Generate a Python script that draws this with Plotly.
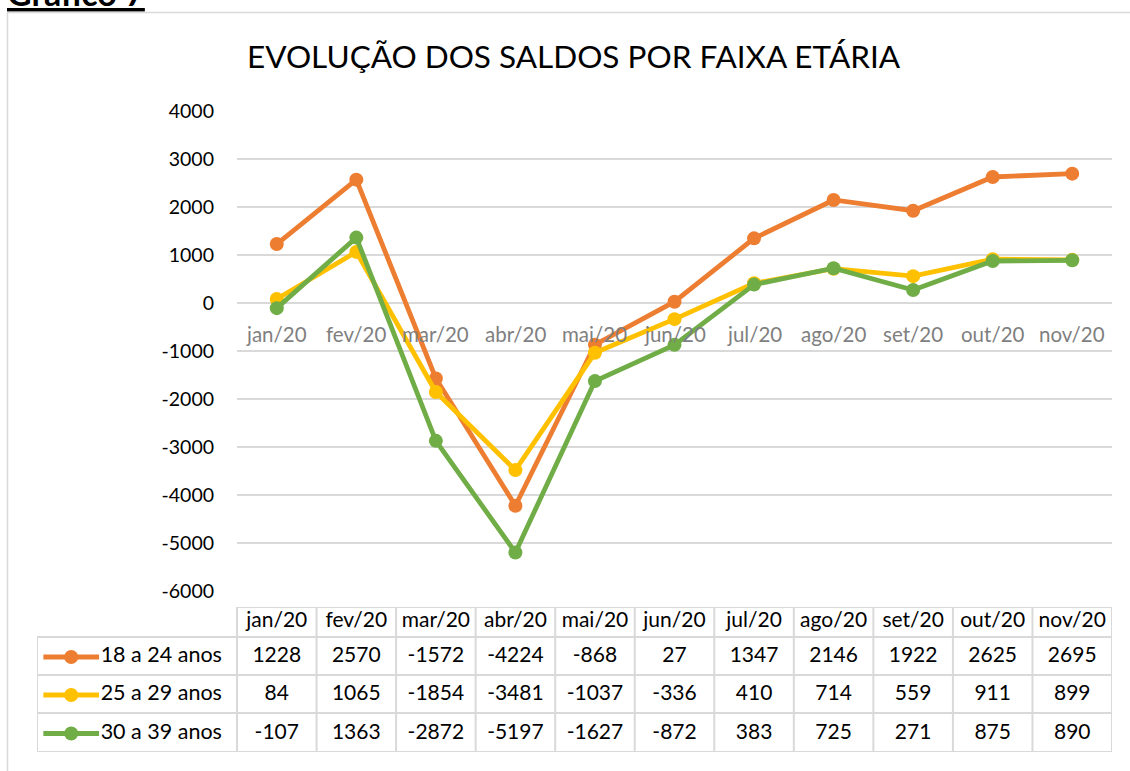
import plotly.graph_objects as go

categories = ["jan/20", "fev/20", "mar/20", "abr/20", "mai/20", "jun/20",
              "jul/20", "ago/20", "set/20", "out/20", "nov/20"]
series_names = ["18 a 24 anos", "25 a 29 anos", "30 a 39 anos"]
s18_24 = [1228, 2570, -1572, -4224, -868, 27, 1347, 2146, 1922, 2625, 2695]
s25_29 = [84, 1065, -1854, -3481, -1037, -336, 410, 714, 559, 911, 899]
s30_39 = [-107, 1363, -2872, -5197, -1627, -872, 383, 725, 271, 875, 890]
y_ticks = [4000, 3000, 2000, 1000, 0, -1000, -2000, -3000, -4000, -5000, -6000]
title_text = "EVOLUÇÃO DOS SALDOS POR FAIXA ETÁRIA"

colors = ["#ED7D31", "#FFC000", "#70AD47"]
series = [s18_24, s25_29, s30_39]

W, H = 1130, 771
FONT = "Lato"
GRID = "#d9d9d9"


def px_x(p):
    return p / W


def px_y(p):
    return 1 - p / H


fig = go.Figure()

n = len(categories)
idx = list(range(n))

for name, vals, col in zip(series_names, series, colors):
    fig.add_trace(go.Scatter(
        x=idx, y=vals, mode="lines+markers", name=name,
        line=dict(color=col, width=4.8),
        marker=dict(color=col, size=14),
        xaxis="x", yaxis="y", showlegend=False, cliponaxis=False,
    ))

# table: x2 in category units, y2 in pixel-like units (top=607, bottom=752)
tbl_top, hdr_bot = 607, 637
row_edges = [637, 675, 713, 752]
leg_left_units = -0.5 - 200 / 79.55
TFS = 21

fig.add_trace(go.Scatter(
    x=idx, y=[(tbl_top + hdr_bot) / 2] * n, mode="text", text=categories,
    textfont=dict(family=FONT, size=TFS, color="#000000"),
    xaxis="x2", yaxis="y2", showlegend=False, hoverinfo="skip",
))
for r, (name, vals, col) in enumerate(zip(series_names, series, colors)):
    yc = (row_edges[r] + row_edges[r + 1]) / 2 + 1
    fig.add_trace(go.Scatter(
        x=idx, y=[yc] * n, mode="text", text=[str(v) for v in vals],
        textfont=dict(family=FONT, size=TFS, color="#000000"),
        xaxis="x2", yaxis="y2", showlegend=False, hoverinfo="skip",
    ))
    fig.add_trace(go.Scatter(
        x=[leg_left_units + 0.08, leg_left_units + 0.78], y=[yc, yc],
        mode="lines", line=dict(color=col, width=4.8),
        xaxis="x2", yaxis="y2", showlegend=False, hoverinfo="skip",
    ))
    fig.add_trace(go.Scatter(
        x=[leg_left_units + 0.43], y=[yc], mode="markers",
        marker=dict(color=col, size=14),
        xaxis="x2", yaxis="y2", showlegend=False, hoverinfo="skip",
    ))
    fig.add_trace(go.Scatter(
        x=[leg_left_units + 0.80], y=[yc], mode="text", text=[name],
        textposition="middle right",
        textfont=dict(family=FONT, size=21.5, color="#000000"),
        xaxis="x2", yaxis="y2", showlegend=False, hoverinfo="skip",
    ))

shapes = []
shapes.append(dict(type="rect", xref="paper", yref="paper",
                   x0=px_x(7.5), x1=px_x(1140), y0=px_y(12.5), y1=px_y(790),
                   line=dict(color=GRID, width=1.5), fillcolor="rgba(0,0,0,0)",
                   layer="below"))
lc = dict(color=GRID, width=2)
shapes.append(dict(type="line", xref="x2", yref="y2", x0=-0.5, x1=n - 0.5,
                   y0=tbl_top, y1=tbl_top, line=lc))
for e in row_edges:
    shapes.append(dict(type="line", xref="x2", yref="y2", x0=leg_left_units,
                       x1=n - 0.5, y0=e, y1=e, line=lc))
shapes.append(dict(type="line", xref="x2", yref="y2", x0=leg_left_units,
                   x1=leg_left_units, y0=row_edges[0], y1=row_edges[-1], line=lc))
for i in range(n + 1):
    shapes.append(dict(type="line", xref="x2", yref="y2", x0=i - 0.5, x1=i - 0.5,
                       y0=tbl_top, y1=row_edges[-1], line=lc))

annotations = []
for i, c in enumerate(categories):
    annotations.append(dict(x=i, y=0, xref="x", yref="y", text=c, showarrow=False,
                            yshift=-31, font=dict(family=FONT, size=20.5, color="#7f7f7f")))
annotations.append(dict(x=px_x(574), y=px_y(56), xref="paper", yref="paper",
                        xanchor="center", yanchor="middle",
                        text=title_text, showarrow=False,
                        font=dict(family=FONT, size=31.5, color="#000000")))
annotations.append(dict(x=px_x(5), y=px_y(15), xref="paper", yref="paper",
                        xanchor="left", yanchor="bottom",
                        text="<b><u>Gráfico 7</u></b>", showarrow=False,
                        font=dict(family=FONT, size=34, color="#000000")))

fig.update_layout(
    width=W, height=H,
    margin=dict(l=0, r=0, t=0, b=0, pad=0, autoexpand=False),
    paper_bgcolor="white", plot_bgcolor="white",
    font=dict(family=FONT, color="#000000"),
    xaxis=dict(domain=[px_x(237), px_x(1112)], range=[-0.5, n - 0.5],
               showgrid=False, zeroline=False, showticklabels=False,
               fixedrange=True, automargin=False),
    yaxis=dict(domain=[px_y(591), px_y(111)], range=[-6000, 4000],
               tickvals=y_ticks, ticktext=[str(v) for v in y_ticks],
               showgrid=True, gridcolor=GRID, gridwidth=1.5,
               zeroline=False, tickfont=dict(family=FONT, size=19.5, color="#000000"),
               ticks="", ticklabelstandoff=22, automargin=False),
    xaxis2=dict(domain=[px_x(37), px_x(1112)], range=[leg_left_units, n - 0.5],
                visible=False, anchor="y2", automargin=False),
    yaxis2=dict(domain=[px_y(752), px_y(607)], range=[752, 607],
                visible=False, anchor="x2", automargin=False),
    shapes=shapes,
    annotations=annotations,
)

fig.write_html("out.html",
               config={"displayModeBar": False},
               post_script="document.body.style.margin='0';document.body.style.overflow='hidden';")
